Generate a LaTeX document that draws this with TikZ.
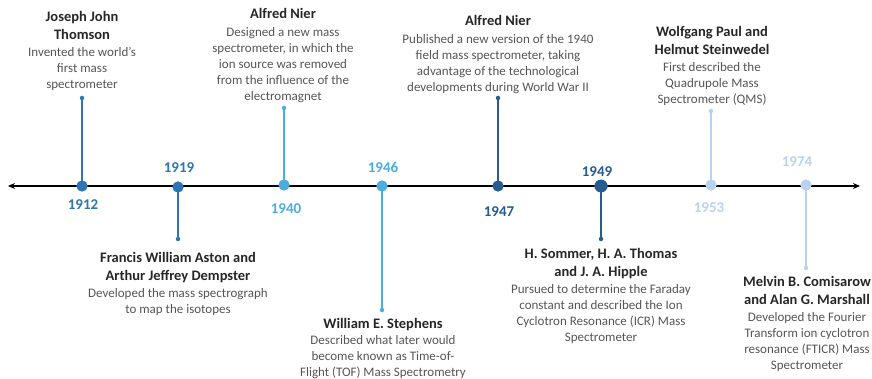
\documentclass[tikz,border=0pt]{standalone}
\usepackage{fontspec}
\setmainfont{Carlito}
\usetikzlibrary{arrows.meta}

\definecolor{bluemid}{HTML}{2E75B6}
\definecolor{bluesky}{HTML}{4BADDD}
\definecolor{bluenavy}{HTML}{265C8E}
\definecolor{bluepale}{HTML}{B7D3ED}
\definecolor{titlegray}{HTML}{262626}
\definecolor{bodygray}{HTML}{555555}

\newcommand{\evtitle}[1]{{\fontsize{14.5}{16}\selectfont\bfseries\color{titlegray}#1}}

\begin{document}
\begin{tikzpicture}[x=1pt,y=-1pt,
  axisline/.style={line width=1.8pt, black, {Stealth[length=7pt,width=6pt]}-{Stealth[length=7pt,width=6pt]}},
  yeardot/.style={circle, fill=#1, inner sep=0pt, minimum size=11pt},
  stemtip/.style={circle, fill=#1, inner sep=0pt, minimum size=4.5pt},
  stem/.style={line width=1.6pt, draw=#1},
  yearlabel/.style={font=\fontsize{15}{16}\selectfont\bfseries, text=#1, inner sep=0pt},
  event/.style={align=center, inner sep=0pt, anchor=north,
    font=\fontsize{13}{16}\selectfont, text=bodygray}
]
\useasboundingbox (0,0) rectangle (872,379);

% timeline axis
\coordinate (axL) at (8,186);
\coordinate (axR) at (860,186);
\draw[axisline] (axL) -- (axR);

% year dots on the axis
\node[yeardot=bluemid]  (d1912) at (82,186) {};
\node[yeardot=bluemid]  (d1919) at (178,187) {};
\node[yeardot=bluesky]  (d1940) at (284,185) {};
\node[yeardot=bluesky]  (d1946) at (382,186) {};
\node[yeardot=bluenavy] (d1947) at (498,186) {};
\node[yeardot=bluenavy,minimum width=13pt] (d1949) at (601,186) {};
\node[yeardot=bluepale] (d1953) at (711,185) {};
\node[yeardot=bluepale] (d1974) at (806,185) {};

% stem end points
\node[stemtip=bluemid]  (t1912) at (82,98) {};
\node[stemtip=bluemid]  (t1919) at (178,239) {};
\node[stemtip=bluesky]  (t1940) at (284,108) {};
\node[stemtip=bluesky]  (t1946) at (382,310) {};
\node[stemtip=bluenavy] (t1947) at (498,98) {};
\node[stemtip=bluenavy] (t1949) at (601,239) {};
\node[stemtip=bluepale] (t1953) at (711,111) {};
\node[stemtip=bluepale] (t1974) at (806,268) {};

% stems
\draw[stem=bluemid]  (t1912.center) -- (d1912.center);
\draw[stem=bluemid]  (t1919.center) -- (d1919.center);
\draw[stem=bluesky]  (t1940.center) -- (d1940.center);
\draw[stem=bluesky]  (t1946.center) -- (d1946.center);
\draw[stem=bluenavy] (t1947.center) -- (d1947.center);
\draw[stem=bluenavy] (t1949.center) -- (d1949.center);
\draw[stem=bluepale] (t1953.center) -- (d1953.center);
\draw[stem=bluepale] (t1974.center) -- (d1974.center);
% redraw dots over the stems
\foreach \n/\c in {1912/bluemid,1919/bluemid,1940/bluesky,1946/bluesky,1947/bluenavy,1953/bluepale,1974/bluepale}
  \fill[\c] (d\n.center) circle (5.5pt);
\fill[bluenavy] (d1949.center) ellipse (6.5pt and 5.5pt);

% year labels
\node[yearlabel=bluemid]  (y1912) at (83,205) {1912};
\node[yearlabel=bluemid]  (y1919) at (179,168) {1919};
\node[yearlabel=bluesky]  (y1940) at (286,209) {1940};
\node[yearlabel=bluesky]  (y1946) at (383,167) {1946};
\node[yearlabel=bluenavy] (y1947) at (499,212) {1947};
\node[yearlabel=bluenavy] (y1949) at (597,172) {1949};
\node[yearlabel=bluepale] (y1953) at (709,208) {1953};
\node[yearlabel=bluepale] (y1974) at (797,162) {1974};

% events
\node[event] (e1912) at (82,11.5) {\evtitle{Joseph John}\\[1.5pt]\evtitle{Thomson}\\[1.5pt]Invented the world’s\\first mass\\spectrometer};
\node[event] (e1940) at (283,8.5) {\evtitle{Alfred Nier}\\[2pt]Designed a new mass\\spectrometer, in which the\\ion source was removed\\from the influence of the\\electromagnet};
\node[event] (e1947) at (498,15.5) {\evtitle{Alfred Nier}\\[2pt]Published a new version of the 1940\\field mass spectrometer, taking\\advantage of the technological\\developments during World War II};
\node[event] (e1953) at (712,26.5) {\evtitle{Wolfgang Paul and}\\[2pt]\evtitle{Helmut Steinwedel}\\[1pt]First described the\\Quadrupole Mass\\Spectrometer (QMS)};
\node[event] (e1919) at (178,252.5) {\evtitle{Francis William Aston and}\\[2pt]\evtitle{Arthur Jeffrey Dempster}\\[1pt]Developed the mass spectrograph\\to map the isotopes};
\node[event] (e1946) at (383,318.5) {\evtitle{William E. Stephens}\\Described what later would\\become known as Time-of-\\Flight (TOF) Mass Spectrometry};
\node[event] (e1949) at (601,248.5) {\evtitle{H. Sommer, H. A. Thomas}\\[2pt]\evtitle{and J. A. Hipple}\\[1pt]Pursued to determine the Faraday\\constant and described the Ion\\Cyclotron Resonance (ICR) Mass\\Spectrometer};
\node[event] (e1974) at (807,276.5) {\evtitle{Melvin B. Comisarow}\\[2pt]\evtitle{and Alan G. Marshall}\\[1pt]Developed the Fourier\\Transform ion cyclotron\\resonance (FTICR) Mass\\Spectrometer};
\end{tikzpicture}
\end{document}
